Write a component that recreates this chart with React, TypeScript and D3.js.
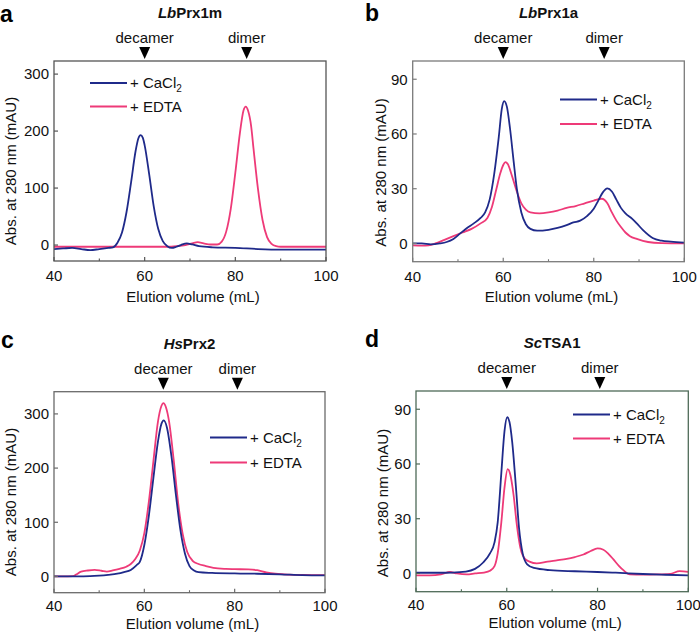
import React from "react";
import * as d3 from "d3";

type Pt = [number, number];

// ---------- data (elution volume mL, absorbance mAU) ----------
const lbPrx1mCaCl2: Pt[] = [
  [40, -7], [42, -6], [44, -5], [46, -7], [48, -9], [50, -7], [52, -5], [53, -4], [54, 4], [55, 22],
  [56, 58], [57, 110], [58, 165], [58.6, 187], [59.1, 193], [59.6, 188], [60, 175], [61, 124],
  [62, 68], [63, 28], [64, 7], [65, -2], [66, -5], [67, -3], [68, 0], [69.3, 3], [70.5, 1],
  [72, -2], [75, -4], [80, -5], [85, -7], [90, -8], [95, -8], [100, -8],
];
const lbPrx1mEDTA: Pt[] = [
  [40, -3], [45, -3], [50, -3], [55, -3], [60, -3], [65, -3], [67, -2], [69, 0], [70.5, 3],
  [71.7, 5], [73, 3], [74.5, 1], [76, 1], [77, 6], [78, 24], [79, 64], [80, 127], [81, 196],
  [81.8, 236], [82.3, 243], [82.8, 236], [83.5, 208], [84, 170], [85, 98], [86, 44], [87, 14],
  [88, 2], [89, -2], [90, -3], [95, -3], [100, -3],
];
const lbPrx1aCaCl2: Pt[] = [
  [40, 0], [42, 0], [44, -0.5], [46, 0], [47.5, 0.8], [49, 2.5], [50.5, 5.5], [52, 8.5], [53.5, 11],
  [55, 14], [56, 17], [57, 24], [58, 38], [59, 58], [59.7, 74], [60.2, 78], [60.8, 75], [61.5, 63],
  [62.3, 45], [63, 30], [64, 17], [65, 10.5], [66, 8], [67.5, 7], [70, 7.5], [72, 8.5], [74, 10],
  [75.5, 11.5], [77, 12.5], [78.5, 15], [80, 19], [81, 23.5], [82, 28], [83, 30.2], [84, 28.5],
  [85, 24], [86, 19.5], [87, 16.5], [88.5, 13.5], [89.5, 11], [91, 7], [93, 3], [95, 1.5],
  [97, 1], [100, 0.5],
];
const lbPrx1aEDTA: Pt[] = [
  [40, -1], [42, -1.2], [43.5, -1], [45, 0], [47, 2], [49, 4], [51, 6], [53, 8], [55, 11],
  [56.5, 14], [57.5, 20], [58.5, 30], [59.3, 38], [60, 43], [60.5, 44.6], [61, 43.5], [62, 36.5],
  [63, 28.5], [64, 22], [65, 18.5], [66, 17], [68, 16.5], [70, 17], [72, 18], [74, 19.5],
  [76, 20.5], [78, 22], [80, 23.5], [81.8, 24.5], [83, 22], [84, 17], [85, 12.5], [86, 9],
  [87, 6], [88, 4], [89.5, 2.5], [92, 0.8], [95, 0.2], [100, 0],
];
const hsPrx2CaCl2: Pt[] = [
  [40, 0], [45, 0], [48, 0.5], [50, 1.5], [52, 3], [54, 5], [55.5, 8], [57, 12], [58.3, 21],
  [59, 27], [60, 58], [61, 112], [62, 181], [63, 248], [63.8, 282], [64.3, 288], [65, 275],
  [66, 222], [67, 150], [68, 85], [69, 42], [70, 19], [71, 11], [72, 8], [75, 6.5], [80, 5.5],
  [85, 5], [90, 4], [95, 2.5], [100, 2],
];
const hsPrx2EDTA: Pt[] = [
  [40, 0], [42, 0], [44.2, 0.5], [45, 4], [46, 9], [47.5, 11], [49, 12], [50.5, 10.5], [51.7, 9],
  [53, 11], [54.5, 14], [56, 18], [57, 23], [58, 32], [59, 48], [60, 80], [61, 138], [62, 212],
  [63, 285], [63.8, 315], [64.2, 320], [64.8, 312], [65.5, 285], [66.5, 215], [67.5, 135],
  [68.5, 78], [69.5, 45], [70.8, 28], [72, 23], [73.5, 19.5], [75.3, 16], [78, 14], [80, 13.5],
  [83, 13], [85, 11.5], [87, 7.5], [89, 5], [91, 4], [95, 3], [100, 2.5],
];
const scTSA1CaCl2: Pt[] = [
  [40, 0.4], [44, 0.4], [48, 0.5], [51, 1], [53, 2.5], [54.8, 6], [56.3, 11], [57.3, 17],
  [58, 28], [58.8, 55], [59.5, 78], [60.1, 85.6], [60.6, 83], [61.2, 72], [62, 48], [62.7, 25],
  [63.5, 11], [64.5, 5], [66, 3], [69.5, 1.8], [75, 1.2], [80, 0.8], [84, 0.4], [90, -0.3],
  [95, -0.7], [100, -1],
];
const scTSA1EDTA: Pt[] = [
  [40, -1], [43, -1], [45.5, -0.5], [47.5, 0.8], [49, 0], [51.2, -0.5], [53, 0], [55, 0.5],
  [56.3, 1.5], [57.3, 4], [58, 11], [58.8, 28], [59.5, 47], [60.2, 57.2], [60.8, 54],
  [61.5, 43], [62.2, 27], [63, 14], [64, 8], [65, 6.5], [66.6, 5.5], [69, 6.5], [71, 7.2],
  [73.2, 8], [75, 9], [76.9, 10.4], [78.5, 12.3], [80, 13.7], [81.3, 13], [82.5, 10.5],
  [83.5, 7.7], [84.7, 4.2], [85.7, 1.8], [87.1, -0.5], [90, -0.6], [93, -0.5], [96, -0.2],
  [98.1, 1.3], [100, 0.9],
];

const titlesItalic = ["Lb", "Lb", "Hs", "Sc"];
const titlesRest = ["Prx1m", "Prx1a", "Prx2", "TSA1"];
const panelLetters = ["a", "b", "c", "d"];
const decamerPos = [60, 60, 64.2, 60];
const dimerPos = [82.5, 82.3, 80.6, 80.5];
const yDomains: [number, number][] = [[-28, 323], [-10, 100], [-30, 341], [-10, 100]];
const yTickValues = [[0, 100, 200, 300], [0, 30, 60, 90], [0, 100, 200, 300], [0, 30, 60, 90]];
const xTickValues = [40, 60, 80, 100];
const xMinorTicks = [50, 70, 90];
const seriesCaCl2 = [lbPrx1mCaCl2, lbPrx1aCaCl2, hsPrx2CaCl2, scTSA1CaCl2];
const seriesEDTA = [lbPrx1mEDTA, lbPrx1aEDTA, hsPrx2EDTA, scTSA1EDTA];

// ---------- layout ----------
const layouts = [
  { L: 54, R: 326, T: 61, B: 261, letterX: 0, letterY: 22, tickLabY: 20, axTitleY: 40.5, yLabX: 16, yLabC: 171, legX: 90, legY: 83, legDy: 23.5, frame: "#555555" },
  { L: 412.7, R: 684.3, T: 61, B: 261.7, letterX: 365, letterY: 21, tickLabY: 20, axTitleY: 40, yLabX: 386, yLabC: 172.5, legX: 560, legY: 99.5, legDy: 24.5, frame: "#7a7a7a" },
  { L: 54, R: 325, T: 391.7, B: 592.7, letterX: 1, letterY: 348, tickLabY: 18, axTitleY: 36, yLabX: 16, yLabC: 502, legX: 210, legY: 437.5, legDy: 25, frame: "#6a6a6a" },
  { L: 416, R: 688.3, T: 391, B: 591.7, letterX: 365, letterY: 347, tickLabY: 18, axTitleY: 36.5, yLabX: 388, yLabC: 503, legX: 573, legY: 414.5, legDy: 24, frame: "#4e6a58" },
];

const BLUE = "#1f2a8a";
const PINK = "#ee3a78";
const FONT = "'Liberation Sans', Arial, Helvetica, sans-serif";

function Panel({ i }: { i: number }) {
  const lay = layouts[i];
  const x = d3.scaleLinear().domain([40, 100]).range([lay.L, lay.R]);
  const y = d3.scaleLinear().domain(yDomains[i]).range([lay.B, lay.T]);
  const line = d3
    .line<Pt>()
    .x((d) => x(d[0]))
    .y((d) => y(d[1]))
    .curve(d3.curveMonotoneX);
  const cx = (lay.L + lay.R) / 2;
  const clipId = `clip${i}`;
  const markers = [
    { label: "decamer", v: decamerPos[i] },
    { label: "dimer", v: dimerPos[i] },
  ];
  return (
    <g fontFamily={FONT}>
      <defs>
        <clipPath id={clipId}>
          <rect x={lay.L} y={lay.T} width={lay.R - lay.L} height={lay.B - lay.T} />
        </clipPath>
      </defs>
      <text x={lay.letterX} y={lay.letterY} fontSize={23} fontWeight="bold" fill="#000">
        {panelLetters[i]}
      </text>
      <text x={cx} y={lay.T - 43} fontSize={15} fontWeight="bold" textAnchor="middle" fill="#111">
        <tspan fontStyle="italic">{titlesItalic[i]}</tspan>
        {titlesRest[i]}
      </text>
      {markers.map((m) => (
        <g key={m.label}>
          <text x={x(m.v)} y={lay.T - 18} fontSize={15} textAnchor="middle" fill="#111">
            {m.label}
          </text>
          <path
            d={`M${x(m.v) - 5.5},${lay.T - 14} L${x(m.v) + 5.5},${lay.T - 14} L${x(m.v)},${lay.T - 2} Z`}
            fill="#000"
          />
        </g>
      ))}
      {/* curves */}
      <g clipPath={`url(#${clipId})`}>
        <path d={line(seriesEDTA[i]) || ""} fill="none" stroke={PINK} strokeWidth={1.8} />
        <path d={line(seriesCaCl2[i]) || ""} fill="none" stroke={BLUE} strokeWidth={1.8} />
      </g>
      {/* frame */}
      <rect
        x={lay.L}
        y={lay.T}
        width={lay.R - lay.L}
        height={lay.B - lay.T}
        fill="none"
        stroke={lay.frame}
        strokeWidth={1.3}
      />
      {/* x ticks */}
      {xTickValues.map((t) => (
        <g key={t}>
          <line x1={x(t)} x2={x(t)} y1={lay.B} y2={lay.B - 4} stroke={lay.frame} strokeWidth={1.2} />
          <text x={x(t)} y={lay.B + lay.tickLabY} fontSize={15} textAnchor="middle" fill="#111">
            {t}
          </text>
        </g>
      ))}
      {xMinorTicks.map((t) => (
        <line key={t} x1={x(t)} x2={x(t)} y1={lay.B} y2={lay.B - 2.5} stroke={lay.frame} strokeWidth={1.1} />
      ))}
      {/* y ticks */}
      {yTickValues[i].map((t) => (
        <g key={t}>
          <line x1={lay.L} x2={lay.L + 4} y1={y(t)} y2={y(t)} stroke={lay.frame} strokeWidth={1.2} />
          <text x={lay.L - 5} y={y(t) + 5.3} fontSize={15} textAnchor="end" fill="#111">
            {t}
          </text>
        </g>
      ))}
      <text x={cx + 3} y={lay.B + lay.axTitleY} fontSize={15} textAnchor="middle" fill="#111">
        Elution volume (mL)
      </text>
      <text
        transform={`translate(${lay.yLabX},${lay.yLabC}) rotate(-90)`}
        fontSize={15}
        textAnchor="middle"
        fill="#111"
      >
        Abs. at 280 nm (mAU)
      </text>
      {/* legend */}
      <line x1={lay.legX} x2={lay.legX + 37} y1={lay.legY} y2={lay.legY} stroke={BLUE} strokeWidth={1.8} />
      <text x={lay.legX + 40} y={lay.legY + 5.3} fontSize={15} fill="#111">
        + CaCl
        <tspan fontSize={10} dy={4}>2</tspan>
      </text>
      <line
        x1={lay.legX}
        x2={lay.legX + 37}
        y1={lay.legY + lay.legDy}
        y2={lay.legY + lay.legDy}
        stroke={PINK}
        strokeWidth={1.8}
      />
      <text x={lay.legX + 40} y={lay.legY + lay.legDy + 5.3} fontSize={15} fill="#111">
        + EDTA
      </text>
    </g>
  );
}

export default function App() {
  return (
    <svg
      width={700}
      height={633}
      style={{ position: "absolute", left: 0, top: 0, background: "#fff" }}
    >
      <rect x={0} y={0} width={700} height={633} fill="#fff" />
      {[0, 1, 2, 3].map((i) => (
        <Panel key={i} i={i} />
      ))}
    </svg>
  );
}
